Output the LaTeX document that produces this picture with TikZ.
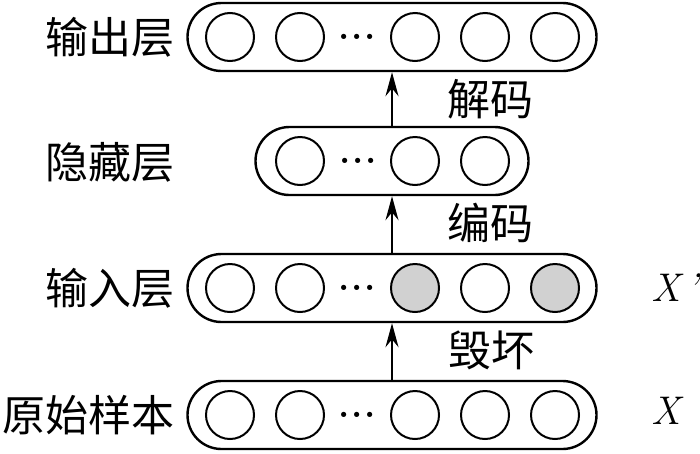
\documentclass[tikz,border=0pt]{standalone}
\usepackage{fontspec}
\newfontfamily\cjk{Noto Sans CJK SC}
\usetikzlibrary{arrows.meta,shapes.misc}

\begin{document}
\begin{tikzpicture}[x=1pt, y=-1pt,
    layer/.style={draw, rounded rectangle, line width=2.4pt, minimum height=68pt, inner sep=0pt},
    unit/.style={draw, circle, line width=2pt, minimum size=48pt, inner sep=0pt},
    masked/.style={unit, fill=black!18},
    dots/.style={inner sep=0pt, font=\bfseries\fontsize{36}{36}\selectfont},
    cn/.style={inner sep=0pt, font=\cjk\fontsize{43}{48}\selectfont},
    var/.style={inner sep=0pt, anchor=west, font=\itshape\fontsize{40}{40}\selectfont},
    flow/.style={-{Stealth[length=24pt, width=13pt]}, line width=2pt}]
    \useasboundingbox (0,0) rectangle (700,453);

    % layers
    \node[layer, minimum width=409pt] (out) at (392,37) {};
    \node[layer, minimum width=273pt] (hid) at (392,161) {};
    \node[layer, minimum width=409pt] (in) at (392,288) {};
    \node[layer, minimum width=409pt] (orig) at (392,415) {};

    % units
    \foreach \x/\n in {230/1, 300/2, 415/3, 485/4, 555/5} {
        \node[unit] (o\n) at (\x,37) {};
        \node[unit] (s\n) at (\x,415) {};
    }
    \foreach \x/\n in {300/1, 415/2, 485/3}
        \node[unit] (h\n) at (\x,161) {};
    \node[unit] (i1) at (230,288) {};
    \node[unit] (i2) at (300,288) {};
    \node[masked] (i3) at (415,288) {};
    \node[unit] (i4) at (485,288) {};
    \node[masked] (i5) at (555,288) {};

    \node[dots] (od) at (357,37) {.\kern1.5pt.\kern1.5pt.};
    \node[dots] (hd) at (358,161) {.\kern1.5pt.\kern1.5pt.};
    \node[dots] (id) at (357,288) {.\kern1.5pt.\kern1.5pt.};
    \node[dots] (sd) at (357,415) {.\kern1.5pt.\kern1.5pt.};

    % labels
    \node[cn, anchor=east] (lout) at (175,37) {输出层};
    \node[cn, anchor=east] (lhid) at (175,162) {隐藏层};
    \node[cn, anchor=east] (lin) at (175,288) {输入层};
    \node[cn, anchor=east] (lorig) at (175,415) {原始样本};

    \node[cn] (dec) at (490,99) {解码};
    \node[cn] (enc) at (490,223) {编码};
    \node[cn] (cor) at (491,350) {毁坏};

    \node[var] (xc) at (651,288) {X\,'};
    \node[var] (x) at (651,411) {X};

    % arrows
    \draw[flow] (orig.north) -- (in.south);
    \draw[flow] (in.north) -- (hid.south);
    \draw[flow] (hid.north) -- (out.south);
\end{tikzpicture}
\end{document}
